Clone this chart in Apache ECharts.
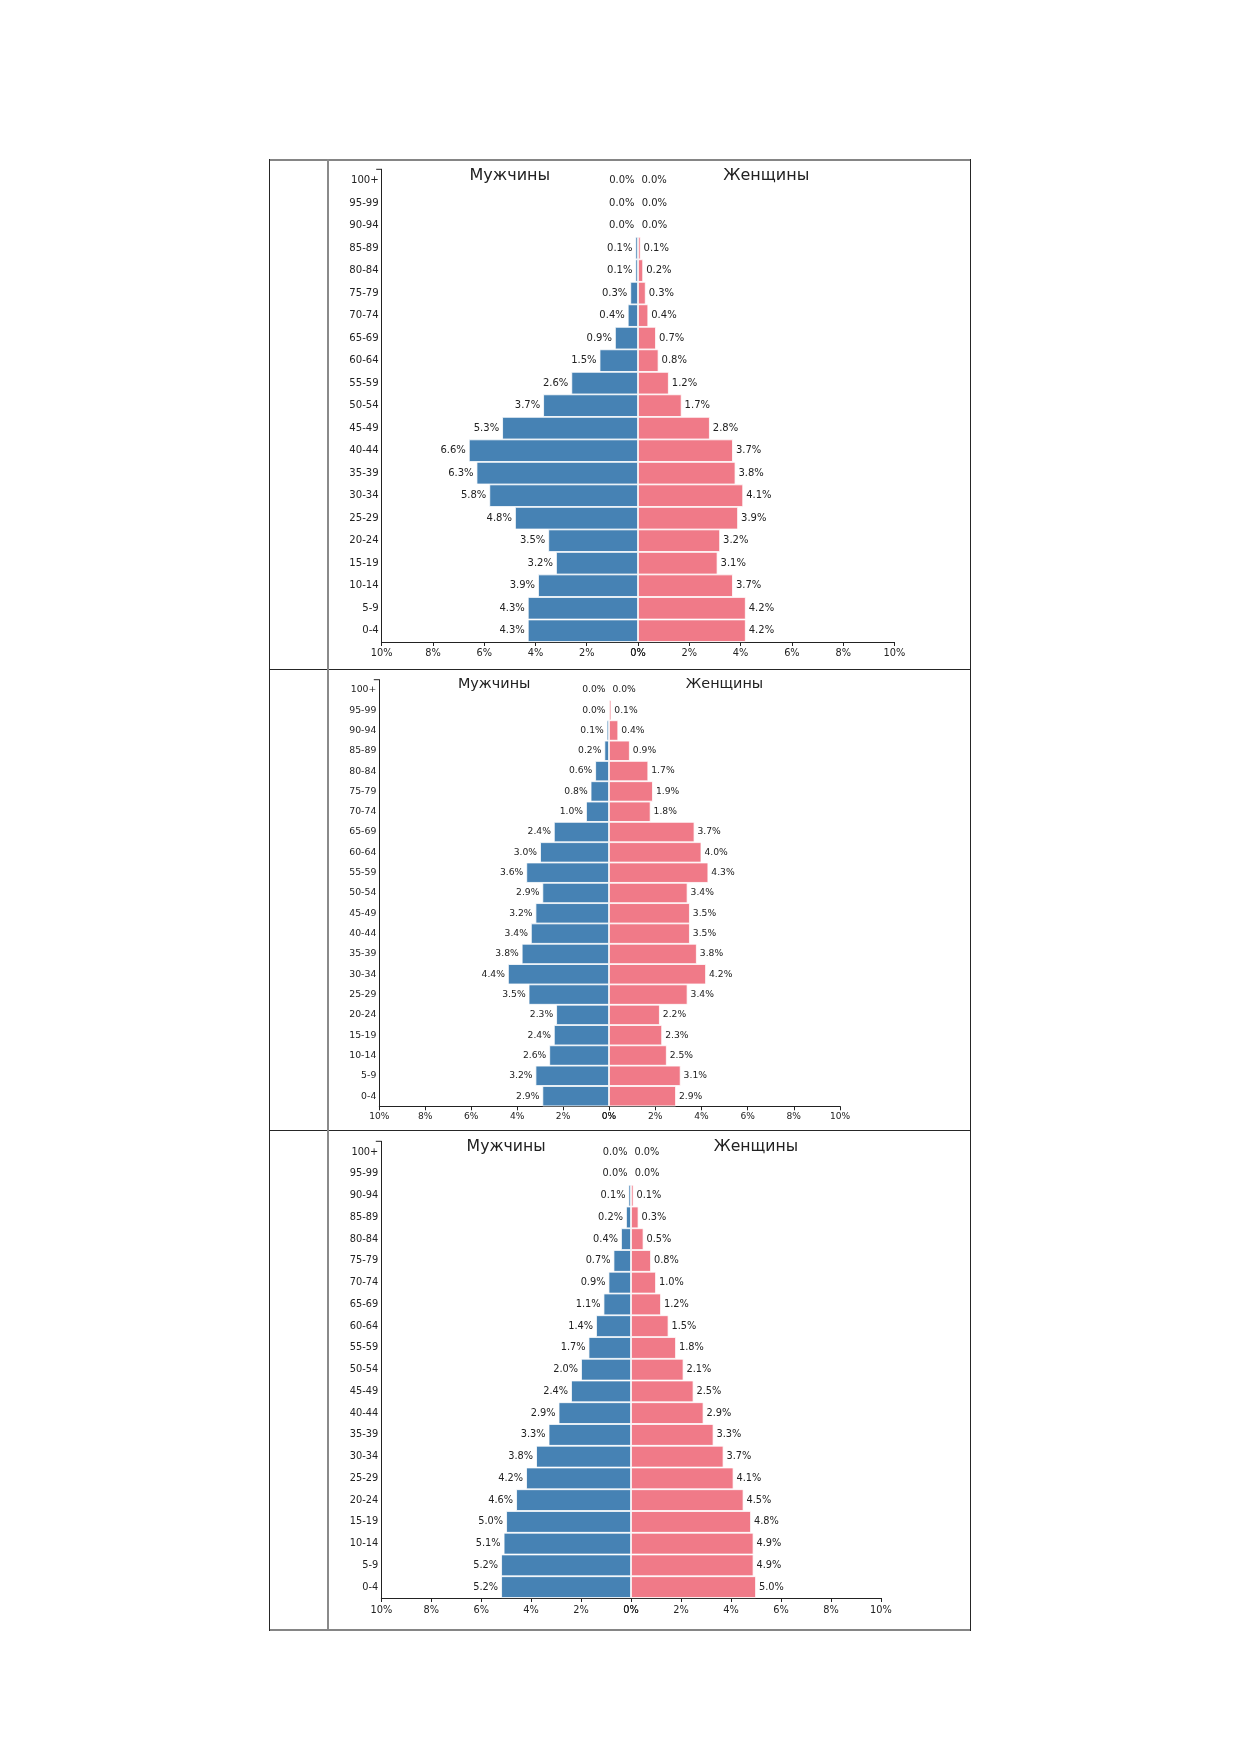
<!DOCTYPE html>
<html>
<head>
<meta charset="utf-8">
<script src="https://cdn.jsdelivr.net/npm/echarts@6/dist/echarts.min.js"></script>
<style>
  html, body { margin: 0; padding: 0; background: #fff; }
  #page { position: relative; width: 1240px; height: 1754px; background: #fff; overflow: hidden; }
  .ln { position: absolute; }
  .chart { position: absolute; overflow: hidden; }
</style>
</head>
<body>
<div id="page">
  <div id="c1" class="chart"></div>
  <div id="c2" class="chart"></div>
  <div id="c3" class="chart"></div>
</div>
<script>
// ---- data ----
const ageGroups = ['100+','95-99','90-94','85-89','80-84','75-79','70-74','65-69','60-64','55-59',
                   '50-54','45-49','40-44','35-39','30-34','25-29','20-24','15-19','10-14','5-9','0-4'];
const titleMale = 'Мужчины';
const titleFemale = 'Женщины';

const male1   = [0, 0.01, 0.02, 0.1, 0.1, 0.3, 0.4, 0.9, 1.5, 2.6, 3.7, 5.3, 6.6, 6.3, 5.8, 4.8, 3.5, 3.2, 3.9, 4.3, 4.3];
const female1 = [0, 0.02, 0.03, 0.1, 0.2, 0.3, 0.4, 0.7, 0.8, 1.2, 1.7, 2.8, 3.7, 3.8, 4.1, 3.9, 3.2, 3.1, 3.7, 4.2, 4.2];

const male2   = [0, 0, 0.1, 0.2, 0.6, 0.8, 1.0, 2.4, 3.0, 3.6, 2.9, 3.2, 3.4, 3.8, 4.4, 3.5, 2.3, 2.4, 2.6, 3.2, 2.9];
const female2 = [0, 0.1, 0.4, 0.9, 1.7, 1.9, 1.8, 3.7, 4.0, 4.3, 3.4, 3.5, 3.5, 3.8, 4.2, 3.4, 2.2, 2.3, 2.5, 3.1, 2.9];

const male3   = [0, 0.01, 0.1, 0.2, 0.4, 0.7, 0.9, 1.1, 1.4, 1.7, 2.0, 2.4, 2.9, 3.3, 3.8, 4.2, 4.6, 5.0, 5.1, 5.2, 5.2];
const female3 = [0, 0.03, 0.1, 0.3, 0.5, 0.8, 1.0, 1.2, 1.5, 1.8, 2.1, 2.5, 2.9, 3.3, 3.7, 4.1, 4.5, 4.8, 4.9, 4.9, 5.0];

const xMax = 10, xStep = 2;

// ---- table frame ----
const page = document.getElementById('page');
function line(x, y, w, h, color) {
  const d = document.createElement('div');
  d.className = 'ln';
  d.style.left = x + 'px'; d.style.top = y + 'px';
  d.style.width = w + 'px'; d.style.height = h + 'px';
  d.style.background = color;
  page.appendChild(d);
}
const T = { left: 268.7, right: 969.6, top: 159, bottom: 1629.3 };
const dark = '#262626';
const grey = '#858585';
line(T.left, T.top, T.right - T.left + 1.4, 1.6, grey);
line(T.left, T.bottom, T.right - T.left + 1.4, 1.6, grey);
line(T.left, T.top, 1.4, T.bottom - T.top + 1.6, dark);
line(T.right, T.top, 1.4, T.bottom - T.top + 1.6, dark);
line(T.left, 668.7, T.right - T.left, 1.4, dark);
line(T.left, 1130.1, T.right - T.left, 1.4, dark);
line(326.7, T.top, 2, T.bottom - T.top, '#8a8a8a');

// ---- pyramids ----
const FONT = 'DejaVu Sans';
const TXT = '#222';
const BLUE = '#4682B4';
const PINK = '#F07A88';

function pyramid(id, male, female, g) {
  const el = document.getElementById(id);
  el.style.left = g.divL + 'px'; el.style.top = g.divT + 'px';
  el.style.width = (g.divR - g.divL) + 'px'; el.style.height = (g.divB - g.divT) + 'px';
  const chart = echarts.init(el, null, { renderer: 'canvas' });
  const axL = g.axisLeft - g.divL;
  const axT = g.axisTop - g.divT;
  const h = g.axisBottom - g.axisTop;
  const cx = g.center - g.divL;
  const halfL = g.center - g.axisLeft;
  const halfR = g.half;
  const titleY = g.titleY - g.divT;

  const xAxisCommon = {
    type: 'value', min: 0, max: xMax, interval: xStep, position: 'bottom',
    axisLine: { show: true, onZero: false, lineStyle: { color: TXT, width: 1 } },
    axisTick: { show: true, length: 4, lineStyle: { color: TXT, width: 1 } },
    splitLine: { show: false },
    axisLabel: { formatter: '{value}%', fontFamily: FONT, fontSize: g.tickFont, color: TXT, margin: g.tickMargin }
  };
  const labelCommon = {
    show: true, fontFamily: FONT, fontSize: g.valFont, color: TXT, distance: 3,
    formatter: p => p.value.toFixed(1) + '%'
  };

  chart.setOption({
    animation: false,
    backgroundColor: 'transparent',
    grid: [
      { left: axL, top: axT, width: halfL, height: h, containLabel: false },
      { left: cx, top: axT, width: halfR, height: h, containLabel: false }
    ],
    xAxis: [
      Object.assign({}, xAxisCommon, { gridIndex: 0, inverse: true }),
      Object.assign({}, xAxisCommon, { gridIndex: 1 })
    ],
    yAxis: [
      { type: 'category', gridIndex: 0, data: ageGroups, inverse: true, position: 'left',
        axisLine: { show: true, onZero: false, lineStyle: { color: TXT, width: 1 } },
        axisTick: { show: false },
        axisLabel: { fontFamily: FONT, fontSize: g.catFont, color: TXT, margin: 3, interval: 0 } },
      { type: 'category', gridIndex: 1, data: ageGroups, inverse: true, show: false }
    ],
    series: [
      { type: 'bar', xAxisIndex: 0, yAxisIndex: 0, data: male, barWidth: '100%',
        itemStyle: { color: BLUE, borderColor: '#fff', borderWidth: 0.8 },
        label: Object.assign({}, labelCommon, { position: 'left' }) },
      { type: 'bar', xAxisIndex: 1, yAxisIndex: 1, data: female, barWidth: '100%',
        itemStyle: { color: PINK, borderColor: '#fff', borderWidth: 0.8 },
        label: Object.assign({}, labelCommon, { position: 'right' }) }
    ],
    graphic: [
      { type: 'line', shape: { x1: axL - 5.5, y1: axT, x2: axL, y2: axT },
        style: { stroke: TXT, lineWidth: 1 }, z: 10 },
      { type: 'text', x: cx - halfL / 2, y: titleY,
        style: { text: titleMale, font: g.titleFont + 'px "' + FONT + '"', fill: TXT, textAlign: 'center', textVerticalAlign: 'middle' }, z: 10 },
      { type: 'text', x: cx + halfR / 2, y: titleY,
        style: { text: titleFemale, font: g.titleFont + 'px "' + FONT + '"', fill: TXT, textAlign: 'center', textVerticalAlign: 'middle' }, z: 10 }
    ]
  });
}

pyramid('c1', male1, female1, {
  divL: 329, divR: 967, divT: 161, divB: 667,
  axisLeft: 381.7, axisTop: 169.3, axisBottom: 642, center: 638, half: 256.5,
  titleY: 175.7, titleFont: 16, catFont: 10.1, valFont: 10, tickFont: 9.8, tickMargin: 6.5
});
pyramid('c2', male2, female2, {
  divL: 329, divR: 967, divT: 671, divB: 1129,
  axisLeft: 379.3, axisTop: 679.7, axisBottom: 1106.3, center: 609, half: 231,
  titleY: 684.7, titleFont: 14.4, catFont: 9.3, valFont: 9.2, tickFont: 9.1, tickMargin: 6
});
pyramid('c3', male3, female3, {
  divL: 329, divR: 967, divT: 1132, divB: 1614.5,
  axisLeft: 381.3, axisTop: 1141.3, axisBottom: 1600.7, center: 631, half: 250,
  titleY: 1147.3, titleFont: 15.7, catFont: 9.8, valFont: 9.8, tickFont: 9.8, tickMargin: 7
});
</script>
</body>
</html>
